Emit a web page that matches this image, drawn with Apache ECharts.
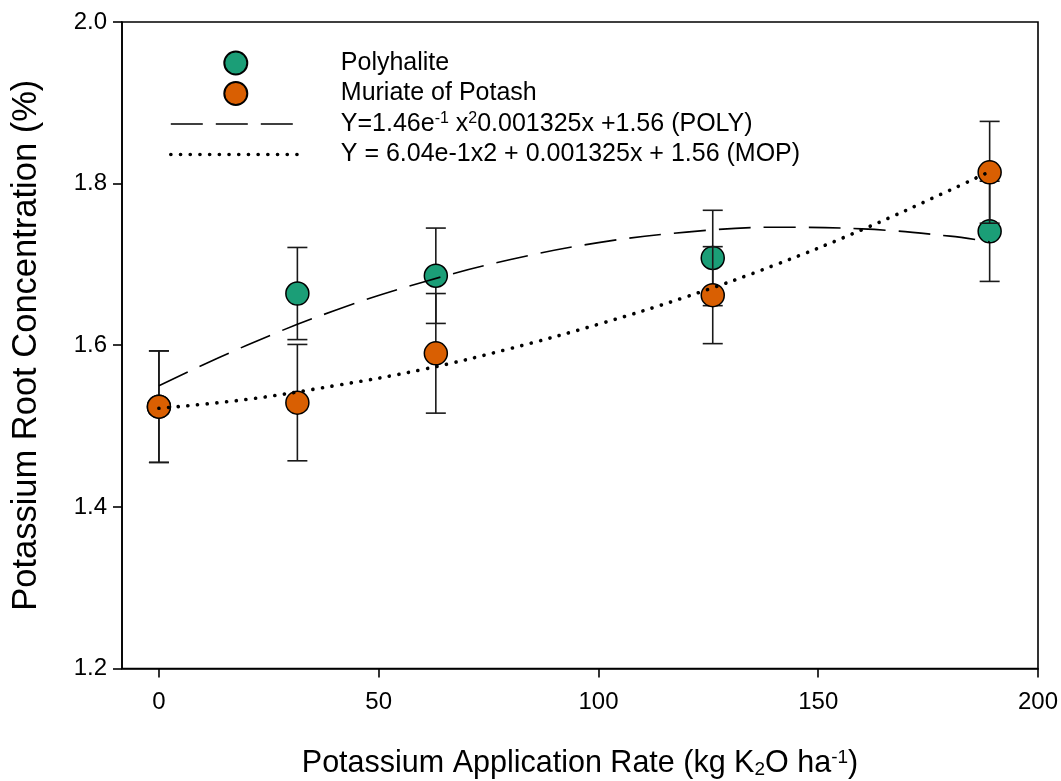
<!DOCTYPE html>
<html>
<head>
<meta charset="utf-8">
<script src="https://cdn.jsdelivr.net/npm/echarts@6/dist/echarts.min.js"></script>
<style>
  html, body { margin: 0; padding: 0; background: #fff; }
  #chart { width: 1061px; height: 781px; }
</style>
</head>
<body>
<div id="chart"></div>
<script>
// Application rates (kg K2O/ha)
const rates = [0, 31.5, 63, 126, 189];

// Polyhalite: mean root K (%) and error
const polyMean = [1.524, 1.664, 1.686, 1.708, 1.741];
const polyErr  = [0.069, 0.057, 0.059, 0.059, 0.062];

// Muriate of Potash: mean root K (%) and error
const mopMean = [1.524, 1.529, 1.590, 1.662, 1.814];
const mopErr  = [0.069, 0.072, 0.074, 0.060, 0.063];

// Fitted regression curves, sampled along the rate axis
const fitX    = [0, 20, 40, 60, 80, 100, 120, 140, 160, 180, 189];
const polyFit = [1.550, 1.600, 1.643, 1.678, 1.706, 1.727, 1.740, 1.746, 1.744, 1.735, 1.728];
const mopFit  = [1.522, 1.533, 1.550, 1.570, 1.596, 1.626, 1.660, 1.699, 1.743, 1.792, 1.815];

// Axis ticks
const xTicks = [0, 50, 100, 150, 200];

const FONT = "'Liberation Sans', Arial, sans-serif";
const GREEN = '#1b9e77';
const ORANGE = '#d95f02';

const zip = (a, b) => a.map((v, i) => [v, b[i]]);
const zip3 = (a, b, c) => a.map((v, i) => [v, b[i], c[i]]);

function errorBars(params, api) {
  const x = api.value(0), m = api.value(1), e = api.value(2);
  const top = api.coord([x, m + e]);
  const bot = api.coord([x, m - e]);
  const hw = 10;
  const st = { stroke: '#1a1a1a', lineWidth: 1.6 };
  return {
    type: 'group',
    children: [
      { type: 'line', shape: { x1: top[0], y1: top[1], x2: bot[0], y2: bot[1] }, style: st },
      { type: 'line', shape: { x1: top[0] - hw, y1: top[1], x2: top[0] + hw, y2: top[1] }, style: st },
      { type: 'line', shape: { x1: bot[0] - hw, y1: bot[1], x2: bot[0] + hw, y2: bot[1] }, style: st }
    ]
  };
}

const legendText = {
  'Polyhalite': 'Polyhalite',
  'Muriate of Potash': 'Muriate of Potash',
  'POLY fit': 'Y=1.46e{sup|-1} x{sup|2}0.001325x +1.56 (POLY)',
  'MOP fit': 'Y = 6.04e-1x2 + 0.001325x + 1.56 (MOP)'
};

const chart = echarts.init(document.getElementById('chart'), null, { renderer: 'canvas' });

chart.setOption({
  animation: false,
  backgroundColor: '#fff',
  textStyle: { fontFamily: FONT },
  grid: {
    left: 122, right: 23, top: 22, bottom: 112.5,
    outerBoundsMode: 'none',
    containLabel: false,
    show: true, borderColor: '#000', borderWidth: 1.6, backgroundColor: 'transparent'
  },
  legend: {
    orient: 'vertical',
    left: 164, top: 45,
    itemWidth: 130, itemHeight: 23, itemGap: 4.5,
    selectedMode: false,
    data: [
      { name: 'Polyhalite', icon: 'circle' },
      { name: 'Muriate of Potash', icon: 'circle' },
      { name: 'POLY fit', itemStyle: { opacity: 0 }, lineStyle: { width: 1.6, type: [32, 13] } },
      { name: 'MOP fit', itemStyle: { opacity: 0 }, lineStyle: { width: 3.6, type: [0.1, 9.6], cap: 'round' } }
    ],
    formatter: name => legendText[name],
    textStyle: {
      fontFamily: FONT, fontSize: 25, color: '#000', lineHeight: 26,
      padding: [0, 0, 0, 35],
      rich: {
        sup: { fontFamily: FONT, fontSize: 16, lineHeight: 26, verticalAlign: 'top', padding: [0, 0, 8, 0] }
      }
    }
  },
  xAxis: {
    type: 'value',
    min: -8.4, max: 200,
    name: 'Potassium Application Rate (kg K{sub|2}O ha{sup|-1})',
    nameLocation: 'middle',
    nameGap: 80,
    nameTextStyle: {
      fontFamily: FONT, fontSize: 30.5, color: '#000',
      rich: {
        sub: { fontFamily: FONT, fontSize: 19, verticalAlign: 'bottom', padding: [12, 0, 0, 0] },
        sup: { fontFamily: FONT, fontSize: 19, verticalAlign: 'top', padding: [0, 0, 12, 0] }
      }
    },
    axisLine: { show: true, onZero: false, lineStyle: { color: '#000', width: 1.6 } },
    axisTick: { show: true, inside: false, length: 9, customValues: xTicks, lineStyle: { color: '#000', width: 1.6 } },
    axisLabel: { customValues: xTicks, margin: 22, fontFamily: FONT, fontSize: 24, color: '#000' },
    splitLine: { show: false }
  },
  yAxis: {
    type: 'value',
    min: 1.2, max: 2.0, interval: 0.2,
    name: 'Potassium Root Concentration (%)',
    nameLocation: 'middle',
    nameGap: 78,
    nameTextStyle: { fontFamily: FONT, fontSize: 34.5, color: '#000' },
    axisLine: { show: true, onZero: false, lineStyle: { color: '#000', width: 1.6 } },
    axisTick: { show: true, inside: false, length: 9, lineStyle: { color: '#000', width: 1.6 } },
    axisLabel: { margin: 15, fontFamily: FONT, fontSize: 24, color: '#000', formatter: v => v.toFixed(1) },
    splitLine: { show: false }
  },
  series: [
    {
      name: 'Polyhalite err', type: 'custom', renderItem: errorBars,
      data: zip3(rates, polyMean, polyErr), encode: { x: 0, y: 1 }, z: 1, silent: true
    },
    {
      name: 'Polyhalite', type: 'scatter', data: zip(rates, polyMean),
      symbol: 'circle', symbolSize: 23, z: 2,
      itemStyle: { color: GREEN, borderColor: '#000', borderWidth: 1.5, opacity: 1 }
    },
    {
      name: 'Muriate of Potash err', type: 'custom', renderItem: errorBars,
      data: zip3(rates, mopMean, mopErr), encode: { x: 0, y: 1 }, z: 3, silent: true
    },
    {
      name: 'Muriate of Potash', type: 'scatter', data: zip(rates, mopMean),
      symbol: 'circle', symbolSize: 23, z: 4,
      itemStyle: { color: ORANGE, borderColor: '#000', borderWidth: 1.5, opacity: 1 }
    },
    {
      name: 'POLY fit', type: 'line', data: zip(fitX, polyFit),
      smooth: 0.4, symbol: 'none', showSymbol: false, z: 5,
      lineStyle: { color: '#000', width: 1.6, type: [32, 13] },
      itemStyle: { color: '#000' }
    },
    {
      name: 'MOP fit', type: 'line', data: zip(fitX, mopFit),
      smooth: 0.4, symbol: 'none', showSymbol: false, z: 5,
      lineStyle: { color: '#000', width: 3.6, type: [0.1, 9.6], cap: 'round' },
      itemStyle: { color: '#000' }
    }
  ]
});
</script>
</body>
</html>
